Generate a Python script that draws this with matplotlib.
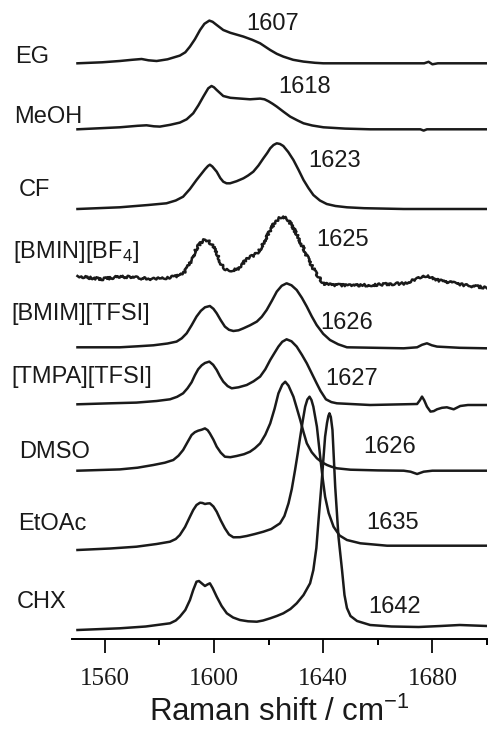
import matplotlib
matplotlib.use('Agg')
import matplotlib.pyplot as plt

plt.rcParams['font.family'] = ['Liberation Sans', 'DejaVu Sans']
plt.rcParams['mathtext.default'] = 'regular'

# spectra: wavenumber (cm-1) and intensity above each baseline (a.u.)
eg_x = [1550, 1559, 1565.5, 1570, 1573.5, 1576, 1579, 1583, 1587.5, 1589.5, 1591.2, 1593, 1594.9, 1596.5,
        1598.3, 1599.5, 1601, 1603.4, 1606, 1610.8, 1614, 1616.9, 1620.6, 1623, 1625.4, 1629, 1632.8,
        1637, 1640, 1657, 1677, 1678.6, 1680, 1682, 1700]
eg_y = [0, 1, 2.3, 3.5, 4.3, 3, 2.3, 4, 7.7, 11, 16.7, 24, 33.3, 39.5,
        42.7, 41.5, 38.3, 33.3, 30.5, 26.7, 23.5, 20, 13.3, 9.5, 6.7, 3.5, 1.7,
        0.5, 0, 0, 0, 1.5, -1, 0, 0]

meoh_x = [1550, 1565.5, 1572, 1575.3, 1578, 1580.2, 1584, 1587.5, 1590, 1592.4, 1594.3, 1596.1, 1597.9,
          1599.1, 1600, 1601, 1603.4, 1606, 1608.3, 1613.2, 1616.9, 1618.5, 1620, 1621.5, 1623, 1625.5,
          1627.9, 1630.5, 1632.8, 1636, 1640.1, 1648, 1657.2, 1675.6, 1676.8, 1678, 1700]
meoh_y = [0, 2, 3.5, 4, 3, 2.7, 4.5, 6.7, 10, 16, 24, 32.7, 41,
          43.3, 42, 39.3, 33.3, 31.5, 31, 30, 30.7, 30, 28, 25.5, 22.7, 17.5,
          12.7, 9, 6, 3.8, 2, 0.7, 0, 0, -1.3, 0, 0]

cf_x = [1550, 1565.5, 1575.9, 1582.6, 1586, 1588.7, 1591.2, 1593.6, 1596.7, 1597.8, 1598.5, 1599.4,
        1601, 1602.3, 1603.4, 1604.6, 1605.9, 1608.3, 1610.8, 1612.5, 1614.4, 1616.3, 1618.1, 1619.5,
        1620.6, 1621.8, 1623, 1624.2, 1625.4, 1627.2, 1629.1, 1631, 1632.8, 1634.6, 1636.4, 1638.8,
        1641.3, 1644.5, 1648.7, 1655, 1669.5, 1700]
cf_y = [0, 1.7, 4, 5.7, 8.5, 12.3, 20, 29, 39.7, 43, 44.3, 42.5,
        37.3, 31, 27.3, 25.7, 25.7, 27.8, 30.7, 33.5, 37.3, 43.5, 50.7, 56,
        60.7, 64, 65.7, 65, 63, 57, 49, 39, 29, 21, 14, 8.5,
        5, 3, 1.7, 0.8, 0, 0]

bf4_x = [1550, 1554, 1559.4, 1564, 1569.2, 1573, 1577.8, 1583, 1587.5, 1589, 1590.5, 1592, 1593.6,
         1595.2, 1596.7, 1598.2, 1599.8, 1601.3, 1602.8, 1604, 1605.3, 1607, 1608.9, 1610.5, 1612,
         1614, 1615.7, 1617.5, 1619.3, 1621, 1622.4, 1624, 1625.4, 1627, 1628.5, 1630.5, 1632.8,
         1634.6, 1636.4, 1638.3, 1640.1, 1642, 1645, 1650, 1657.2, 1663, 1669.5, 1672, 1674.4,
         1676, 1678, 1680, 1681.7, 1685, 1688, 1691.5, 1695, 1700]
bf4_y = [0.7, -1, -2.3, -0.5, 0, -1.5, -2.3, -1, 1, 4, 10, 18, 28.3,
         34, 37.3, 35, 30, 21, 11.7, 8, 6.7, 6.5, 8.3, 13, 18.3,
         20.5, 23.3, 30, 40, 48.5, 55, 58.5, 60, 57, 51.7, 41, 28.3,
         17, 8.3, 0, -6.7, -8, -8.3, -9, -8.3, -7.5, -6.7, -4.5, -2.3,
         0, 1, -1, -3.3, -5, -6.5, -8.3, -9.5, -11]

bmim_x = [1550, 1565.5, 1572, 1577.8, 1583, 1586.3, 1588.2, 1590, 1591.8, 1593.6, 1595.2, 1596.7,
          1598.5, 1599.8, 1601, 1602.5, 1604, 1605.5, 1607.1, 1609, 1610.8, 1613.2, 1615.7, 1617.5,
          1619.3, 1621.2, 1623, 1624.8, 1626.6, 1628.4, 1630.3, 1632.2, 1634, 1635.8, 1637.6, 1640,
          1642.5, 1645.5, 1648.7, 1669.5, 1674.4, 1676.2, 1678, 1679.8, 1681.7, 1690, 1700]
bmim_y = [0, 0, 1, 2, 3.8, 5.7, 9, 14, 22, 30.7, 36.5, 40,
          41.3, 38.5, 34, 27, 20.7, 17.5, 16.3, 17, 19, 22, 25.7, 30.5,
          37.3, 46.5, 55.7, 61.5, 64, 62, 57.3, 49.5, 40.7, 31, 22.3, 13.5,
          7.3, 3, 0, -1, 0, 2.5, 4, 2, 0.7, -0.5, -1]

tmpa_x = [1550, 1562, 1571.6, 1579, 1583.9, 1586.5, 1588.7, 1590.3, 1591.8, 1593, 1594.2, 1595.5,
          1596.7, 1598.3, 1599.7, 1601, 1602.2, 1603.4, 1605, 1606.5, 1609, 1612, 1614.5, 1616.9,
          1618.8, 1620.6, 1622.2, 1623.6, 1625, 1626.6, 1628.4, 1630.3, 1632.2, 1634, 1635.8, 1637.6,
          1639, 1641, 1643, 1645, 1657.2, 1674.4, 1675.4, 1676.2, 1677, 1678, 1679.3, 1680.5, 1681.7,
          1683.5, 1685.3, 1687.8, 1690.2, 1693, 1700]
tmpa_y = [0, 1, 1.7, 3.3, 5, 7.5, 11, 16, 22, 29, 35, 39,
          41.3, 42.7, 39.5, 34.3, 28, 22.7, 18.2, 16, 17, 19.3, 23, 27.7,
          35, 44.3, 51.5, 57.7, 62.5, 65, 63, 57.7, 49.5, 41, 31, 21,
          13.5, 5, 2.2, 1, -0.7, 0.3, 4, 7.7, 4, -2.3, -7.3, -6.8, -5,
          -3.5, -3, -5, -1.7, -0.7, -0.7]

dmso_x = [1550, 1565.5, 1572, 1577.8, 1582, 1585.1, 1587, 1588.7, 1590.3, 1591.8, 1593, 1594.2,
          1595.5, 1596.7, 1597.7, 1598.5, 1599.8, 1601, 1602.5, 1604, 1606, 1608.3, 1611, 1613.2,
          1615, 1616.9, 1618.8, 1620.6, 1622.2, 1623.6, 1625, 1626.1, 1627.3, 1629.1, 1630.4, 1631.6,
          1632.8, 1634, 1635.8, 1637.7, 1639.5, 1641.4, 1643, 1645, 1650, 1660, 1669.5, 1672, 1674.4,
          1676.8, 1680, 1700]
dmso_y = [0, 1.3, 3, 5.7, 8, 10.7, 15, 20.7, 28.5, 35.7, 38.5, 40,
          41, 42.3, 40.5, 37.3, 31, 24, 18, 14, 13.5, 14.7, 16.5, 19,
          22.5, 27.3, 36, 47.3, 62, 77.3, 86, 89, 85, 74, 62, 50.7,
          38.5, 27.4, 18.5, 12.4, 8.5, 5.7, 4, 2.4, 1, 0.3, 0, -1, -3.3,
          -1, 0, 0]

etoac_x = [1550, 1562, 1571.6, 1579, 1583.9, 1586, 1587.5, 1589.4, 1591.2, 1592.4, 1593.6, 1594.9,
           1595.8, 1596.7, 1597.6, 1598.5, 1599.8, 1601, 1602.5, 1604, 1605.5, 1607.1, 1609.5, 1612,
           1615, 1618.1, 1621, 1624.2, 1625.8, 1627.3, 1628.5, 1629.7, 1630.7, 1631.6, 1632.5, 1633.4,
           1634.2, 1635, 1635.7, 1636.4, 1637.7, 1638.9, 1639.8, 1640.7, 1642, 1643.8, 1646, 1648.7,
           1653.6, 1663.4, 1700]
etoac_y = [0, 1.5, 3.3, 6, 8.3, 11, 15, 23, 33.3, 40, 45, 47.3,
           47, 46, 46.5, 46.7, 43.5, 38.3, 29.5, 21.7, 15.5, 12.7, 12.8, 14,
           16, 18.3, 21, 26.7, 34, 46.7, 61, 80, 97, 113.3, 129, 143.3,
           150.5, 153.3, 150, 143.3, 123.3, 93.3, 72, 53.3, 37, 23.3, 14.5, 10,
           6.7, 4.3, 4.3]

chx_x = [1550, 1565.5, 1575, 1583.9, 1586, 1587.5, 1589.5, 1591.2, 1592.4, 1593.6, 1594.5, 1595.5,
         1596.7, 1597.6, 1598.5, 1599.5, 1601, 1602.8, 1604.7, 1607, 1609.5, 1612.5, 1615.7, 1618,
         1620.6, 1623, 1625.4, 1628, 1630.3, 1632.8, 1635.2, 1636.4, 1637.5, 1638.3, 1639.5, 1640.7,
         1641.4, 1641.9, 1642.3, 1642.8, 1643.4, 1644.4, 1645.6, 1646.9, 1647.8, 1648.7, 1650, 1652.4,
         1657.2, 1665, 1675, 1683, 1690, 1700]
chx_y = [0, 1.7, 3.5, 6.7, 9.5, 13.3, 20, 30, 40, 48.3, 49, 46.7,
         44, 45.5, 46.7, 42, 33.3, 24, 16.7, 12.5, 10, 8.7, 8.3, 9.5,
         11.7, 14, 16.7, 21, 26.7, 35, 46.7, 60, 82, 110, 150, 193.3,
         207, 214, 216.7, 213, 200, 143.3, 93.3, 60, 35, 22, 14, 9,
         5, 3.5, 3, 4, 5, 4]

names = ['EG', 'MeOH', 'CF', '[BMIN][BF$_4$]', '[BMIM][TFSI]', '[TMPA][TFSI]', 'DMSO', 'EtOAc', 'CHX']
peaks = ['1607', '1618', '1623', '1625', '1626', '1627', '1626', '1635', '1642']
offsets = [575.7, 509.7, 430, 362.3, 291.7, 234.7, 168.3, 89, 9]
spectra = [(eg_x, eg_y), (meoh_x, meoh_y), (cf_x, cf_y), (bf4_x, bf4_y), (bmim_x, bmim_y),
           (tmpa_x, tmpa_y), (dmso_x, dmso_y), (etoac_x, etoac_y), (chx_x, chx_y)]

# label positions in pixels (left labels: left edge, peak labels: centre)
name_pos = [(15, 57), (14, 117), (19, 190), (13, 252), (11, 314), (11, 377), (19, 452), (18, 524), (17, 602)]
peak_pos = [(273, 24), (305, 87), (335, 161), (343, 240), (347, 323), (352, 379), (390, 447), (393, 523), (395, 607)]

W, H = 489, 732
fig = plt.figure(figsize=(W / 100, H / 100), dpi=100)
ax = fig.add_axes([72 / W, (H - 639) / H, (487 - 72) / W, 639 / H])

for i, ((x, y), off) in enumerate(zip(spectra, offsets)):
    line, = ax.plot(x, [v + off for v in y], color='#1a1a1a', lw=1.8, solid_joinstyle='round')
    if names[i].startswith('[BMIN]'):
        # noisy trace in the original
        line.set_sketch_params(scale=1.2, length=2.5, randomness=6)

ax.set_xlim(1548, 1700)
ax.set_ylim(0, 639)
for s in ['left', 'right', 'top']:
    ax.spines[s].set_visible(False)
ax.spines['bottom'].set_linewidth(1.4)
ax.set_yticks([])
ax.set_xticks([1560, 1600, 1640, 1680])
ax.set_xticks([1580, 1620, 1660, 1700], minor=True)
ax.tick_params(axis='x', which='major', direction='out', length=10, width=1.4, pad=11,
               labelsize=18, labelfontfamily='Liberation Serif', colors='#1a1a1a')
ax.tick_params(axis='x', which='minor', direction='out', length=4.5, width=1.4)
ax.set_xlabel('Raman shift / cm$^{-1}$', fontsize=22.5, color='#1a1a1a', labelpad=5)

for name, (px, py) in zip(names, name_pos):
    fig.text(px / W, 1 - py / H, name, fontsize=17, ha='left', va='center', color='#1a1a1a')
for lab, (px, py) in zip(peaks, peak_pos):
    fig.text(px / W, 1 - py / H, lab, fontsize=17, ha='center', va='center', color='#1a1a1a')

fig.savefig('out.png', dpi=100)
